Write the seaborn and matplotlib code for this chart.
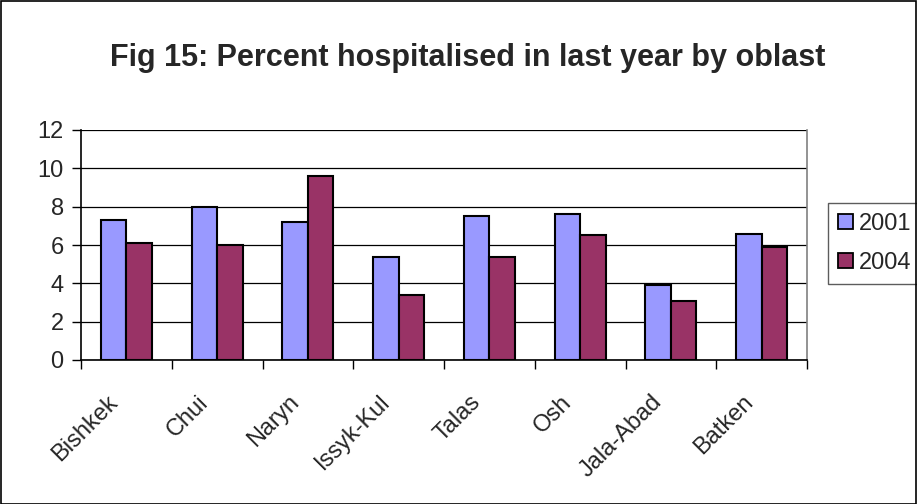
import matplotlib
matplotlib.use("Agg")
import matplotlib.pyplot as plt
import matplotlib.transforms as mtransforms
import seaborn as sns
import pandas as pd
import numpy as np
from matplotlib.patches import Rectangle

oblasts = ["Bishkek", "Chui", "Naryn", "Issyk-Kul", "Talas", "Osh", "Jala-Abad", "Batken"]
pct_2001 = [7.3, 8.0, 7.2, 5.4, 7.5, 7.6, 3.9, 6.6]
pct_2004 = [6.1, 6.0, 9.6, 3.4, 5.4, 6.5, 3.1, 5.9]
years = ["2001", "2004"]
palette = {"2001": "#9999FF", "2004": "#993366"}

df = pd.DataFrame({
    "oblast": oblasts * 2,
    "year": [years[0]] * len(oblasts) + [years[1]] * len(oblasts),
    "pct": pct_2001 + pct_2004,
})

sns.set_theme(style="white")
plt.rcParams["font.family"] = ["Liberation Sans", "DejaVu Sans"]

W, H = 917, 504
fig = plt.figure(figsize=(W / 100, H / 100), dpi=100)
ax = fig.add_axes([81 / W, 1 - 360 / H, (807 - 81) / W, (360 - 130) / H])

sns.barplot(data=df, x="oblast", y="pct", hue="year", palette=palette,
            order=oblasts, hue_order=years, width=0.56, saturation=1,
            edgecolor="black", linewidth=1.5, ax=ax, legend=True)

ax.set_ylim(0, 12)
ax.set_xlim(-0.5, len(oblasts) - 0.5)
ax.set_yticks(np.arange(0, 13, 2))
ax.yaxis.grid(True, color="black", linewidth=0.9)
ax.set_axisbelow(True)
ax.set_xlabel("")
ax.set_ylabel("")

for side in ["left", "bottom"]:
    ax.spines[side].set_color("black")
    ax.spines[side].set_linewidth(1.2)
ax.spines["right"].set_visible(True)
ax.spines["right"].set_color("#808080")
ax.spines["right"].set_linewidth(1.2)
ax.spines["top"].set_visible(False)

ax.tick_params(axis="y", which="major", length=6.5, width=1, color="black",
               direction="out", labelsize=17, left=True, pad=6)

# category labels, rotated and hung just below the axis
ax.set_xticks(np.arange(len(oblasts)))
ax.set_xticklabels(oblasts, rotation=45, ha="right", va="center",
                   rotation_mode="anchor", fontsize=17)
ax.tick_params(axis="x", which="major", length=0, pad=28)
shift = mtransforms.ScaledTranslation(-12 / 100, 0, fig.dpi_scale_trans)
for lbl in ax.get_xticklabels():
    lbl.set_transform(lbl.get_transform() + shift)

# tick marks sit between the categories
ax.set_xticks(np.arange(-0.5, len(oblasts), 1), minor=True)
ax.tick_params(axis="x", which="minor", length=6.5, width=1, color="black",
               direction="out", bottom=True)

handles, labels = ax.get_legend_handles_labels()
leg = ax.legend(handles, labels, loc="upper left",
                bbox_to_anchor=(828 / W, 1 - 203 / H), bbox_transform=fig.transFigure,
                frameon=True, fancybox=False, edgecolor="#333333", fontsize=17,
                handlelength=0.62, handleheight=0.62, handletextpad=0.25,
                borderpad=0.42, labelspacing=0.72, borderaxespad=0)
leg.get_frame().set_linewidth(1)
for h in leg.legend_handles:
    h.set_edgecolor("black")
    h.set_linewidth(1.3)

fig.text(468 / W, 1 - 58 / H, "Fig 15: Percent hospitalised in last year by oblast",
         ha="center", va="center", fontsize=22, fontweight="bold")

fig.patches.append(Rectangle((0.5 / W, 0.5 / H), 1 - 1.5 / W, 1 - 1.5 / H,
                             transform=fig.transFigure, fill=False,
                             edgecolor="black", linewidth=1.2))

fig.savefig("out.png", dpi=100)
